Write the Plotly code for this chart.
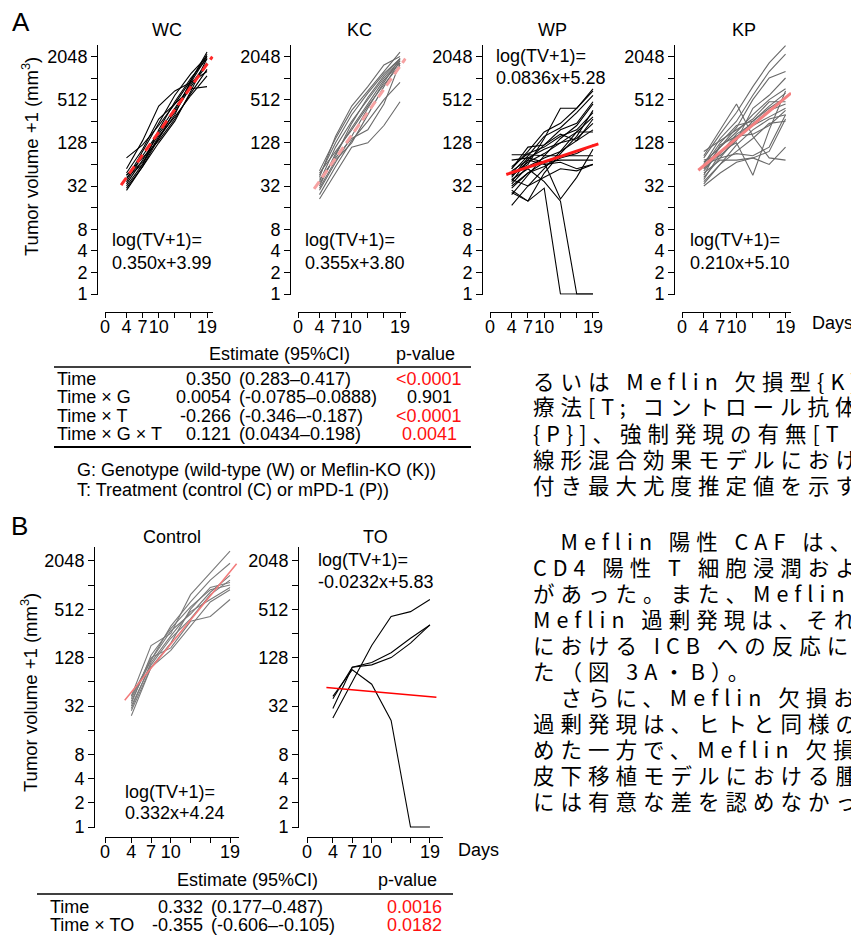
import plotly.graph_objects as go

W, H = 851, 937

# ---------------- data (log2 of tumour volume + 1) ----------------
days = [4, 7, 10, 13, 16, 19]

wc_log2 = [
    [5.2, 6.4, 7.5, 8.6, 9.7, 10.7],
    [6.3, 6.9, 7.8, 8.8, 9.9, 11.2],
    [4.8, 5.9, 7.2, 8.5, 9.8, 11.0],
    [5.6, 6.7, 8.1, 8.8, 9.5, 9.6],
    [5.5, 6.3, 7.1, 8.1, 9.3, 10.4],
    [5.0, 6.0, 7.6, 8.9, 10.0, 10.9],
    [5.3, 6.6, 7.9, 9.2, 10.2, 11.0],
    [5.4, 6.0, 7.3, 8.2, 9.2, 10.1],
    [5.1, 6.2, 7.4, 8.4, 9.6, 10.6],
    [5.8, 7.1, 8.7, 9.4, 9.8, 10.3],
    [4.9, 5.9, 7.0, 8.0, 9.4, 10.9],
    [5.5, 6.1, 7.2, 8.3, 9.9, 11.1],
]
kc_log2 = [
    [5.7, 7.2, 8.5, 9.4, 10.3, 11.2],
    [5.5, 7.0, 8.3, 9.3, 10.2, 10.9],
    [5.2, 6.8, 8.0, 9.0, 10.0, 10.8],
    [5.0, 6.5, 7.7, 8.8, 9.9, 10.7],
    [5.6, 6.6, 7.6, 8.7, 9.7, 10.6],
    [4.8, 6.1, 7.3, 8.6, 9.8, 10.9],
    [4.4, 5.6, 6.8, 7.0, 7.8, 8.9],
    [4.6, 5.9, 7.1, 8.0, 9.0, 9.8],
    [5.3, 6.3, 7.2, 7.6, 8.8, 10.7],
    [5.4, 7.3, 8.7, 9.6, 10.6, 11.0],
    [4.9, 6.2, 7.0, 8.3, 9.6, 10.8],
    [5.1, 6.4, 7.9, 9.1, 10.1, 10.9],
]
wp_log2 = [
    [6.45, 6.45, 6.4, 6.4, 6.4, 6.4],
    [6.2, 6.3, 6.1, 6.2, 6.2, 6.2],
    [4.1, 5.0, 5.8, 6.6, 7.5, 8.2],
    [4.7, 4.3, 5.6, 6.5, 7.3, 8.5],
    [4.8, 4.3, 4.9, 0.0, 0.0, 0.0],
    [5.3, 5.8, 5.2, 4.3, 0.0, 0.0],
    [5.5, 6.0, 7.2, 8.6, 8.6, 9.5],
    [5.8, 6.6, 7.5, 7.9, 8.6, 9.4],
    [5.6, 6.4, 7.3, 7.7, 8.4, 9.2],
    [5.2, 6.2, 6.9, 7.6, 7.9, 8.9],
    [5.9, 6.5, 6.8, 7.3, 7.6, 8.4],
    [5.4, 6.3, 6.7, 7.0, 7.2, 7.9],
    [5.1, 5.9, 6.3, 6.6, 7.1, 8.1],
    [4.9, 5.6, 6.1, 4.4, 5.4, 6.7],
    [5.7, 6.2, 6.0, 6.1, 5.8, 6.0],
    [5.0, 5.6, 5.9, 6.3, 6.5, 6.9],
    [5.5, 6.1, 6.5, 7.0, 7.5, 7.5],
    [4.6, 5.5, 6.4, 7.2, 7.8, 8.8],
    [5.8, 6.8, 6.9, 7.4, 7.1, 7.6],
    [5.3, 5.0, 5.4, 5.8, 5.7, 6.0],
]
kp_log2 = [
    [6.3, 7.4, 8.4, 9.6, 10.7, 11.5],
    [6.0, 7.2, 8.0, 9.2, 10.3, 11.1],
    [5.8, 6.8, 7.7, 9.0, 10.0, 10.3],
    [6.4, 7.6, 8.8, 7.3, 6.3, 6.2],
    [5.7, 6.6, 7.0, 5.5, 7.6, 9.4],
    [5.4, 6.3, 7.2, 8.0, 8.7, 9.3],
    [5.2, 6.0, 6.9, 7.6, 8.1, 8.3],
    [5.0, 5.6, 6.1, 6.3, 6.6, 8.1],
    [5.6, 6.2, 6.2, 6.3, 6.0, 6.8],
    [6.1, 6.8, 7.5, 8.3, 9.0, 9.5],
    [5.9, 7.0, 7.8, 8.0, 8.6, 9.1],
    [5.3, 6.5, 7.4, 7.9, 8.5, 8.8],
    [6.6, 7.1, 7.6, 8.1, 8.9, 8.9],
    [5.5, 6.9, 7.3, 7.8, 8.2, 8.6],
    [6.2, 6.4, 7.1, 8.6, 9.2, 10.0],
    [5.8, 6.5, 7.3, 7.4, 7.8, 8.5],
    [5.1, 6.0, 6.6, 7.2, 7.9, 8.0],
    [6.0, 6.3, 6.5, 6.4, 6.8, 8.3],
]
control_log2 = [
    [5.4, 7.5, 8.0, 9.6, 10.5, 11.4],
    [5.2, 6.9, 8.3, 9.3, 10.2, 10.9],
    [5.0, 6.7, 7.8, 8.6, 9.6, 10.2],
    [4.6, 6.6, 7.6, 9.0, 9.9, 10.1],
    [5.3, 7.0, 7.4, 8.5, 8.7, 9.4],
    [4.9, 6.8, 7.9, 8.9, 9.4, 9.9],
    [5.1, 7.1, 8.2, 9.1, 9.8, 10.0],
    [4.8, 6.6, 7.3, 8.3, 9.3, 9.8],
    [5.4, 6.9, 8.1, 8.8, 9.7, 10.4],
]
to_log2 = [
    [4.5, 6.0, 7.5, 8.7, 8.9, 9.4],
    [4.9, 6.6, 6.7, 7.0, 7.6, 8.35],
    [5.3, 6.6, 6.8, 7.2, 7.8, 8.35],
    [5.4, 6.5, 5.9, 4.4, 0.0, 0.0],
]

# fitted models: log2(TV+1) = slope * day + intercept
fit_slopes = {"WC": 0.350, "KC": 0.355, "WP": 0.0836, "KP": 0.210, "Control": 0.332, "TO": -0.0232}
fit_intercepts = {"WC": 3.99, "KC": 3.80, "WP": 5.28, "KP": 5.10, "Control": 4.24, "TO": 5.83}
fit_labels = {"WC": "0.350x+3.99", "KC": "0.355x+3.80", "WP": "0.0836x+5.28",
              "KP": "0.210x+5.10", "Control": "0.332x+4.24", "TO": "-0.0232x+5.83"}
fit_day_range = [3, 20]

y_tickvals = [0, 1, 2, 3, 5, 7, 9, 11]
y_ticktext = ["1", "2", "4", "8", "32", "128", "512", "2048"]
y_minor = [4, 6, 8, 10]
x_tickvals = [0, 4, 7, 10, 19]
x_ticktext = ["0", "4", "7", "10", "19"]
x_minor = [13, 16]

table_a_terms = ["Time", "Time × G", "Time × T", "Time × G × T"]
table_a_est = ["0.350", "0.0054", "-0.266", "0.121"]
table_a_ci = ["(0.283–0.417)", "(-0.0785–0.0888)", "(-0.346–-0.187)", "(0.0434–0.198)"]
table_a_p = ["<0.0001", "0.901", "<0.0001", "0.0041"]
table_a_sig = [True, False, True, True]

table_b_terms = ["Time", "Time × TO"]
table_b_est = ["0.332", "-0.355"]
table_b_ci = ["(0.177–0.487)", "(-0.606–-0.105)"]
table_b_p = ["0.0016", "0.0182"]
table_b_sig = [True, True]

jp_block1 = [
    "るいは Meflin 欠損型{K}",
    "療法[T; コントロール抗体",
    "{P}]、強制発現の有無[T",
    "線形混合効果モデルにおけ",
    "付き最大尤度推定値を示す",
]
jp_block2 = [
    "\u3000Meflin 陽性 CAF は、",
    "CD4 陽性 T 細胞浸潤およ",
    "があった。また、Meflin 欠",
    "Meflin 過剰発現は、それぞ",
    "における ICB への反応に減",
    "た（図 3A・B）。",
    "\u3000さらに、Meflin 欠損およ",
    "過剰発現は、ヒトと同様の",
    "めた一方で、Meflin 欠損",
    "皮下移植モデルにおける腫",
    "には有意な差を認めなかっ",
]

# ---------------- layout helpers ----------------
def fx(x):
    return x / W

def fy(y):
    return 1 - y / H

FONT = "Liberation Sans, Arial, Helvetica, sans-serif"
FS = 18

panels = [
    dict(key="WC", data=wc_log2, color="#000000", fitcolor="#ff2a2a", dash="9px,5px", fitw=3,
         yline=97, x0=105, xper=5.37, xmax=20.2, ybot=294, yper=21.6, xline=312,
         title=(167, 30), eq_x=110, eq_y=(240, 263)),
    dict(key="KC", data=kc_log2, color="#6a6a6a", fitcolor="#f6a2a2", dash="9px,5px", fitw=3,
         yline=290, x0=298, xper=5.37, xmax=20.2, ybot=294, yper=21.6, xline=312,
         title=(359, 30), eq_x=303, eq_y=(240, 263)),
    dict(key="WP", data=wp_log2, color="#000000", fitcolor="#ff1a1a", dash="solid", fitw=3,
         yline=482, x0=490, xper=5.42, xmax=20.1, ybot=294, yper=21.6, xline=312,
         title=(552, 30), eq_x=494, eq_y=(56, 78)),
    dict(key="KP", data=kp_log2, color="#6a6a6a", fitcolor="#f48282", dash="solid", fitw=3,
         yline=674, x0=682, xper=5.45, xmax=20.0, ybot=294, yper=21.6, xline=312,
         title=(744, 30), eq_x=688, eq_y=(240, 263)),
    dict(key="Control", data=control_log2, color="#7a7a7a", fitcolor="#f27a7a", dash="solid", fitw=1.5,
         yline=94, x0=105, xper=6.58, xmax=20.4, ybot=827, yper=24.2, xline=837,
         title=(172, 537), eq_x=123, eq_y=(792, 813)),
    dict(key="TO", data=to_log2, color="#000000", fitcolor="#ff0000", dash="solid", fitw=1.5,
         yline=298, x0=307, xper=6.47, xmax=21.0, ybot=827, yper=24.2, xline=837,
         title=(375, 537), eq_x=316, eq_y=(560, 582)),
]
YTOP = 11.55
YLOW = -0.04

fig = go.Figure()
annotations = []
shapes = []

def note(x, y, text, size=FS, color="black", xanchor="center", yanchor="middle", family=FONT, angle=0):
    annotations.append(dict(x=fx(x), y=fy(y), xref="paper", yref="paper", text=text, showarrow=False,
                            xanchor=xanchor, yanchor=yanchor, textangle=angle,
                            font=dict(family=family, size=size, color=color)))

for i, p in enumerate(panels):
    n = i + 1
    xa = "x" if n == 1 else f"x{n}"
    ya = "y" if n == 1 else f"y{n}"
    for mouse in p["data"]:
        fig.add_trace(go.Scatter(x=days, y=mouse, mode="lines", xaxis=xa, yaxis=ya,
                                 line=dict(color=p["color"], width=1.1), hoverinfo="skip"))
    k = p["key"]
    fit_y = [fit_slopes[k] * d + fit_intercepts[k] for d in fit_day_range]
    fig.add_trace(go.Scatter(x=fit_day_range, y=fit_y, mode="lines", xaxis=xa, yaxis=ya,
                             line=dict(color=p["fitcolor"], width=p["fitw"], dash=p["dash"]),
                             hoverinfo="skip"))
    xd = [fx(p["x0"]), fx(p["x0"] + p["xmax"] * p["xper"])]
    yd = [fy(p["ybot"] - YLOW * p["yper"]), fy(p["ybot"] - YTOP * p["yper"])]
    fig.layout["xaxis" if n == 1 else f"xaxis{n}"] = dict(
        domain=xd, range=[0, p["xmax"]], anchor="free", position=fy(p["xline"]),
        showline=True, linecolor="black", linewidth=1, ticks="outside", ticklen=5,
        tickcolor="black", tickwidth=1, tickvals=x_tickvals, ticktext=x_ticktext, tickangle=0,
        ticklabelstandoff=-7,
        minor=dict(tickvals=x_minor, ticks="outside", ticklen=5, tickcolor="black", tickwidth=1, showgrid=False),
        showgrid=False, zeroline=False, automargin=False,
        tickfont=dict(family=FONT, size=FS, color="black"))
    fig.layout["yaxis" if n == 1 else f"yaxis{n}"] = dict(
        domain=yd, range=[YLOW, YTOP], anchor="free", position=fx(p["yline"]),
        showline=True, linecolor="black", linewidth=1, ticks="outside", ticklen=6,
        tickcolor="black", tickwidth=1, tickvals=y_tickvals, ticktext=y_ticktext,
        minor=dict(tickvals=y_minor, ticks="outside", ticklen=6, tickcolor="black", tickwidth=1, showgrid=False),
        showgrid=False, zeroline=False, automargin=False,
        tickfont=dict(family=FONT, size=FS, color="black"))
    note(p["title"][0], p["title"][1], k)
    note(p["eq_x"], p["eq_y"][0], "log(TV+1)=", xanchor="left")
    note(p["eq_x"], p["eq_y"][1], fit_labels[k], xanchor="left")

# panel letters, axis titles, Days
note(21, 22, "A", size=26)
note(19, 526, "B", size=26)
note(30, 157, "Tumor volume +1 (mm<sup>3</sup>)", size=18.5, angle=-90)
note(29, 693, "Tumor volume +1 (mm<sup>3</sup>)", size=18.5, angle=-90)
note(810, 323, "Days", xanchor="left")
note(456, 850, "Days", xanchor="left")

# ---------------- table A ----------------
note(279, 354, "Estimate (95%CI)")
note(425, 354, "p-value")
shapes.append(dict(type="line", xref="paper", yref="paper", x0=fx(54), x1=fx(471), y0=fy(367), y1=fy(367),
                   line=dict(color="black", width=1.5)))
rows_a = [379, 397, 415.5, 434]
for yy, t, e, c, pv, s in zip(rows_a, table_a_terms, table_a_est, table_a_ci, table_a_p, table_a_sig):
    note(55, yy, t, xanchor="left")
    note(233, yy, e, xanchor="right")
    note(237, yy, c, xanchor="left")
    note(429, yy, pv, color="#ff1010" if s else "black")
shapes.append(dict(type="line", xref="paper", yref="paper", x0=fx(54), x1=fx(471), y0=fy(447), y1=fy(447),
                   line=dict(color="black", width=2)))
note(75, 470, "G: Genotype (wild-type (W) or Meflin-KO (K))", xanchor="left")
note(75, 490, "T: Treatment (control (C) or mPD-1 (P))", xanchor="left")

# ---------------- table B ----------------
note(247, 880, "Estimate (95%CI)")
note(407, 880, "p-value")
shapes.append(dict(type="line", xref="paper", yref="paper", x0=fx(37), x1=fx(453), y0=fy(894), y1=fy(894),
                   line=dict(color="black", width=1.5)))
rows_b = [907, 925]
for yy, t, e, c, pv, s in zip(rows_b, table_b_terms, table_b_est, table_b_ci, table_b_p, table_b_sig):
    note(48, yy, t, xanchor="left")
    note(205, yy, e, xanchor="right")
    note(209, yy, c, xanchor="left")
    note(414, yy, pv, color="#ff1010" if s else "black")

# ---------------- Japanese body text (tracked, runs off the right edge) ----------------
JP = "Noto Sans CJK JP"

def jp_markup(line):
    return '<span style="letter-spacing:6px">' + line + "</span>"

y0_1, y0_2, step = 380, 540, 26
for j, line in enumerate(jp_block1):
    note(531, y0_1 + j * step, jp_markup(line), size=21.5, xanchor="left", family=JP)
for j, line in enumerate(jp_block2):
    note(531, y0_2 + j * step, jp_markup(line), size=21.5, xanchor="left", family=JP)

fig.update_layout(template="none", width=W, height=H, margin=dict(l=0, r=0, t=0, b=0, pad=0),
                  paper_bgcolor="white", plot_bgcolor="white", showlegend=False,
                  font=dict(family=FONT, size=FS, color="black"),
                  annotations=annotations, shapes=shapes)

fig.write_html("out.html", config={"displayModeBar": False},
               post_script="document.body.style.margin='0px';document.body.style.overflow='hidden';")
